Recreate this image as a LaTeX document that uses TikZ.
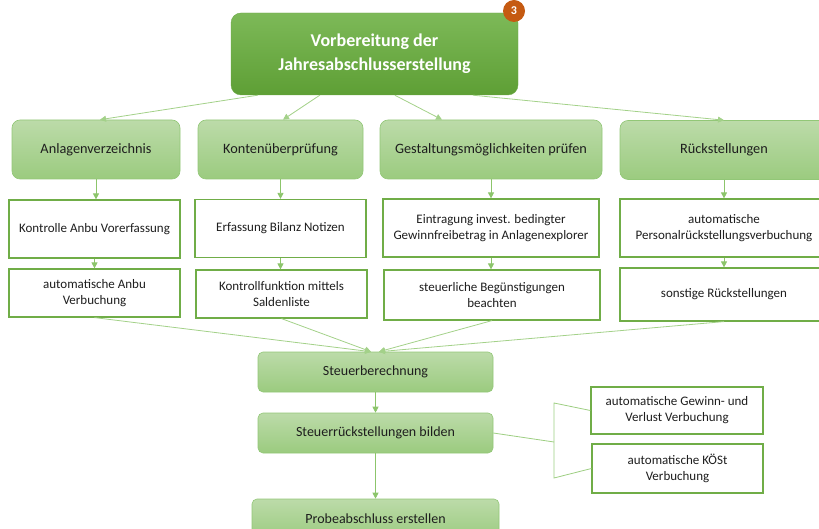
\documentclass[tikz,border=0pt]{standalone}
\usepackage{fontspec}
\setmainfont{Carlito}
\usepackage{xcolor}
\usetikzlibrary{arrows.meta,positioning,calc}

\definecolor{topgreenA}{HTML}{7DB958}
\definecolor{topgreenB}{HTML}{5E9F35}
\definecolor{lightA}{HTML}{BCDBA9}
\definecolor{lightB}{HTML}{9BCB7F}
\definecolor{lightDraw}{HTML}{92C777}
\definecolor{boxDraw}{HTML}{70AD47}
\definecolor{lineGreen}{HTML}{8CC56B}
\definecolor{badgeOrange}{HTML}{C55A11}
\definecolor{txt}{HTML}{1E1E1E}

\begin{document}
\begin{tikzpicture}[
    x=1pt, y=-1pt,
    arr/.style={-{Triangle[length=6pt,width=6pt]}, draw=lineGreen, line width=0.8pt},
    link/.style={draw=lineGreen!85, line width=0.8pt},
    mainbox/.style={rounded corners=10pt, top color=topgreenA, bottom color=topgreenB, draw=topgreenB!90,
        minimum width=287pt, minimum height=82pt, align=center, text=white, font=\fontsize{18}{24}\selectfont\bfseries},
    stepbox/.style={rounded corners=8pt, top color=lightA, bottom color=lightB, draw=lightDraw, line width=0.6pt,
        minimum height=59pt, align=center, text=txt, font=\fontsize{14.3}{17}\selectfont},
    taskbox/.style={draw=boxDraw, line width=1.2pt, fill=white, align=center, text=txt,
        font=\fontsize{13}{16}\selectfont},
    flowbox/.style={rounded corners=5pt, top color=lightA, bottom color=lightB, draw=lightDraw, line width=0.6pt,
        minimum height=40pt, align=center, text=txt, font=\fontsize{14}{17}\selectfont},
]
\useasboundingbox (0,0) rectangle (819,529);
\clip (0,0) rectangle (819,529);

% Top node with badge
\node[mainbox] (top) at (374.5,54) {Vorbereitung der\\Jahresabschlusserstellung};
\node[circle, fill=badgeOrange, minimum size=22pt, inner sep=0pt, text=white,
      font=\fontsize{12}{12}\selectfont\bfseries] (badge) at (514,11) {3};

% Second level
\node[stepbox, minimum width=168pt] (anl) at (96,149.5) {Anlagenverzeichnis};
\node[stepbox, minimum width=165pt] (kont) at (280.5,149.5) {Kontenüberprüfung};
\node[stepbox, minimum width=222pt] (gest) at (491,149.5) {Gestaltungsmöglichkeiten prüfen};
\node[stepbox, minimum width=208pt] (rueck) at (724,150) {Rückstellungen};

% Third level
\node[taskbox, minimum width=171pt, minimum height=58pt] (kontrolle) at (94.5,229) {Kontrolle Anbu Vorerfassung};
\node[taskbox, minimum width=171pt, minimum height=58pt] (erfassung) at (280.5,228.5) {Erfassung Bilanz Notizen};
\node[taskbox, minimum width=216pt, minimum height=58pt] (eintragung) at (491,228) {Eintragung invest. bedingter\\Gewinnfreibetrag in Anlagenexplorer};
\node[taskbox, minimum width=208pt, minimum height=58pt] (personal) at (724,228) {automatische\\Personalrückstellungsverbuchung};

% Fourth level
\node[taskbox, minimum width=171pt, minimum height=48pt] (autoanbu) at (94.5,293) {automatische Anbu\\Verbuchung};
\node[taskbox, minimum width=171pt, minimum height=48pt] (kontrollfkt) at (281.5,294) {Kontrollfunktion mittels\\Saldenliste};
\node[taskbox, minimum width=216pt, minimum height=50pt] (steuerl) at (492,295) {steuerliche Begünstigungen\\beachten};
\node[taskbox, minimum width=208pt, minimum height=53pt] (sonstige) at (724,294.5) {sonstige Rückstellungen};

% Tax flow
\node[flowbox, minimum width=235pt] (steuerber) at (375.5,372) {Steuerberechnung};
\node[flowbox, minimum width=235pt] (steuerrueck) at (375.5,433) {Steuerrückstellungen bilden};
\node[flowbox, minimum width=247pt] (probe) at (375.5,519) {Probeabschluss erstellen};

\node[taskbox, minimum width=172pt, minimum height=47pt] (gewinn) at (677,410.5) {automatische Gewinn- und\\Verlust Verbuchung};
\node[taskbox, minimum width=171pt, minimum height=49pt] (koest) at (677.5,468.5) {automatische KÖSt\\Verbuchung};

% Bracket
\coordinate (brtop) at (554,403);
\coordinate (brmid) at (554,442);
\coordinate (brbot) at (554,478);

% Top to second level
\draw[arr, draw=lineGreen!80] ([xshift=27pt]top.south west) -- ([xshift=4pt]anl.north);
\draw[arr, draw=lineGreen!80] ([xshift=89pt]top.south west) -- ([xshift=2.5pt]kont.north);
\draw[arr, draw=lineGreen!80] ([xshift=164pt]top.south west) -- ([xshift=-49pt]gest.north);
\draw[arr, draw=lineGreen!80] ([xshift=242pt]top.south west) -- (rueck.north);

% Columns
\draw[arr] (anl.south) -- (anl.south |- kontrolle.north);
\draw[arr] (kontrolle.south) -- (kontrolle.south |- autoanbu.north);
\draw[arr] (kont.south) -- (kont.south |- erfassung.north);
\draw[arr] (erfassung.south) -- (erfassung.south |- kontrollfkt.north);
\draw[arr] (gest.south) -- (gest.south |- eintragung.north);
\draw[arr] (eintragung.south) -- (eintragung.south |- steuerl.north);
\draw[arr] (rueck.south) -- (rueck.south |- personal.north);
\draw[arr] (personal.south) -- (personal.south |- sonstige.north);

% Into tax calculation
\draw[arr, draw=lineGreen!80] (autoanbu.south) -- ([xshift=-4.5pt]steuerber.north);
\draw[arr, draw=lineGreen!80] (kontrollfkt.south) -- ([xshift=-4.5pt]steuerber.north);
\draw[arr, draw=lineGreen!80] (steuerl.south) -- ([xshift=3.5pt]steuerber.north);
\draw[arr, draw=lineGreen!80] (sonstige.south) -- ([xshift=3.5pt]steuerber.north);

\draw[arr] (steuerber.south) -- (steuerber.south |- steuerrueck.north);
\draw[arr] (steuerrueck.south) -- (steuerrueck.south |- probe.north);

% Bracket links
\draw[link] (steuerrueck.east) -- (brmid);
\draw[link] (gewinn.west) -- (brtop) -- (brbot) -- (koest.west);

\end{tikzpicture}
\end{document}
